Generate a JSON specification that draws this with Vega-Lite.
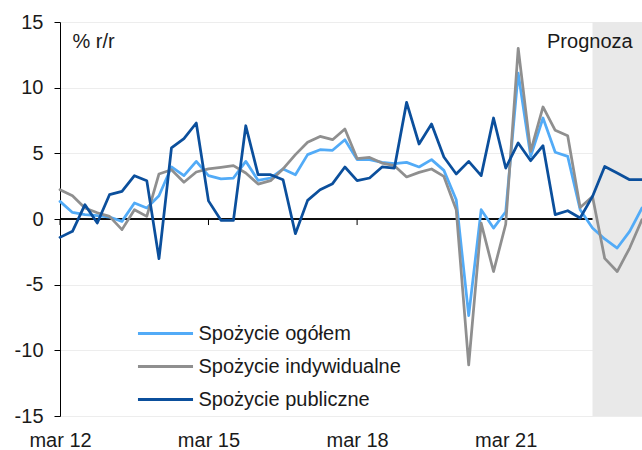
{
  "$schema": "https://vega.github.io/schema/vega-lite/v6.json",
  "width": 582,
  "height": 394,
  "autosize": {"type": "none"},
  "padding": {"left": 60, "top": 22, "right": 0, "bottom": 34},
  "background": "white",
  "config": {
    "font": "Liberation Sans",
    "view": {"stroke": null},
    "legend": {"labelFont": "Liberation Sans"}
  },
  "datasets": {
    "series": [
      {"d": "2012-03-01", "ogolem": 1.34, "indywidualne": 2.23, "publiczne": -1.4},
      {"d": "2012-06-01", "ogolem": 0.5, "indywidualne": 1.77, "publiczne": -0.94},
      {"d": "2012-09-01", "ogolem": 0.33, "indywidualne": 0.84, "publiczne": 1.09},
      {"d": "2012-12-01", "ogolem": 0.25, "indywidualne": 0.48, "publiczne": -0.31},
      {"d": "2013-03-01", "ogolem": 0.15, "indywidualne": 0.2, "publiczne": 1.85},
      {"d": "2013-06-01", "ogolem": -0.18, "indywidualne": -0.81, "publiczne": 2.1},
      {"d": "2013-09-01", "ogolem": 1.22, "indywidualne": 0.71, "publiczne": 3.3},
      {"d": "2013-12-01", "ogolem": 0.84, "indywidualne": 0.2, "publiczne": 2.92},
      {"d": "2014-03-01", "ogolem": 1.77, "indywidualne": 3.43, "publiczne": -3.02},
      {"d": "2014-06-01", "ogolem": 3.96, "indywidualne": 3.75, "publiczne": 5.41},
      {"d": "2014-09-01", "ogolem": 3.3, "indywidualne": 2.8, "publiczne": 6.12},
      {"d": "2014-12-01", "ogolem": 4.39, "indywidualne": 3.58, "publiczne": 7.31},
      {"d": "2015-03-01", "ogolem": 3.3, "indywidualne": 3.82, "publiczne": 1.38},
      {"d": "2015-06-01", "ogolem": 3.05, "indywidualne": 3.93, "publiczne": -0.1},
      {"d": "2015-09-01", "ogolem": 3.12, "indywidualne": 4.06, "publiczne": -0.1},
      {"d": "2015-12-01", "ogolem": 4.39, "indywidualne": 3.5, "publiczne": 7.1},
      {"d": "2016-03-01", "ogolem": 2.94, "indywidualne": 2.66, "publiczne": 3.37},
      {"d": "2016-06-01", "ogolem": 3.12, "indywidualne": 2.92, "publiczne": 3.37},
      {"d": "2016-09-01", "ogolem": 3.81, "indywidualne": 3.81, "publiczne": 2.99},
      {"d": "2016-12-01", "ogolem": 3.37, "indywidualne": 4.9, "publiczne": -1.12},
      {"d": "2017-03-01", "ogolem": 4.9, "indywidualne": 5.84, "publiczne": 1.42},
      {"d": "2017-06-01", "ogolem": 5.28, "indywidualne": 6.29, "publiczne": 2.23},
      {"d": "2017-09-01", "ogolem": 5.23, "indywidualne": 6.04, "publiczne": 2.69},
      {"d": "2017-12-01", "ogolem": 6.04, "indywidualne": 6.85, "publiczne": 3.96},
      {"d": "2018-03-01", "ogolem": 4.52, "indywidualne": 4.6, "publiczne": 2.92},
      {"d": "2018-06-01", "ogolem": 4.52, "indywidualne": 4.69, "publiczne": 3.12},
      {"d": "2018-09-01", "ogolem": 4.31, "indywidualne": 4.26, "publiczne": 3.96},
      {"d": "2018-12-01", "ogolem": 4.21, "indywidualne": 4.06, "publiczne": 3.88},
      {"d": "2019-03-01", "ogolem": 4.31, "indywidualne": 3.2, "publiczne": 8.88},
      {"d": "2019-06-01", "ogolem": 3.96, "indywidualne": 3.55, "publiczne": 5.71},
      {"d": "2019-09-01", "ogolem": 4.52, "indywidualne": 3.81, "publiczne": 7.23},
      {"d": "2019-12-01", "ogolem": 3.7, "indywidualne": 3.24, "publiczne": 4.72},
      {"d": "2020-03-01", "ogolem": 1.47, "indywidualne": 0.71, "publiczne": 3.43},
      {"d": "2020-06-01", "ogolem": -7.36, "indywidualne": -11.1, "publiczne": 4.39},
      {"d": "2020-09-01", "ogolem": 0.71, "indywidualne": -0.31, "publiczne": 3.3},
      {"d": "2020-12-01", "ogolem": -0.69, "indywidualne": -4.0, "publiczne": 7.69},
      {"d": "2021-03-01", "ogolem": 0.55, "indywidualne": -0.4, "publiczne": 3.88},
      {"d": "2021-06-01", "ogolem": 11.1, "indywidualne": 13.0, "publiczne": 5.79},
      {"d": "2021-09-01", "ogolem": 4.77, "indywidualne": 5.15, "publiczne": 4.44},
      {"d": "2021-12-01", "ogolem": 7.69, "indywidualne": 8.53, "publiczne": 5.58},
      {"d": "2022-03-01", "ogolem": 5.08, "indywidualne": 6.75, "publiczne": 0.33},
      {"d": "2022-06-01", "ogolem": 4.77, "indywidualne": 6.34, "publiczne": 0.63},
      {"d": "2022-09-01", "ogolem": 0.71, "indywidualne": 0.88, "publiczne": 0.08},
      {"d": "2022-12-01", "ogolem": -0.69, "indywidualne": 1.72, "publiczne": 1.72},
      {"d": "2023-03-01", "ogolem": -1.52, "indywidualne": -3.0, "publiczne": 4.0},
      {"d": "2023-06-01", "ogolem": -2.21, "indywidualne": -4.0, "publiczne": 3.5},
      {"d": "2023-09-01", "ogolem": -0.94, "indywidualne": -2.21, "publiczne": 2.99},
      {"d": "2023-12-01", "ogolem": 0.84, "indywidualne": -0.05, "publiczne": 2.99}
    ],
    "ticks": [
      {"d": "2012-03-01"},
      {"d": "2015-03-01"},
      {"d": "2018-03-01"},
      {"d": "2021-03-01"}
    ],
    "forecast": [{"d": "2022-12-01", "d2": "2023-12-01"}],
    "notes": [
      {"d": "2012-06-01", "v": 13.0, "t": "% r/r"}
    ],
    "notes2": [
      {"d": "2023-09-23", "v": 13.0, "t": "Prognoza"}
    ]
  },
  "layer": [
    {
      "data": {"name": "ticks"},
      "mark": {"type": "rule", "color": "#000000", "strokeWidth": 1},
      "encoding": {
        "x": {
          "field": "d", "type": "temporal",
          "scale": {"domain": [{"year": 2012, "month": 3, "date": 1, "utc": true}, {"year": 2023, "month": 12, "date": 1, "utc": true}]},
          "axis": {
            "values": [{"year": 2012, "month": 3, "date": 1, "utc": true}, {"year": 2015, "month": 3, "date": 1, "utc": true}, {"year": 2018, "month": 3, "date": 1, "utc": true}, {"year": 2021, "month": 3, "date": 1, "utc": true}],
            "labelExpr": "'mar ' + utcFormat(datum.value, '%y')",
            "title": null, "domain": false, "ticks": false, "grid": false,
            "labelFontSize": 20, "labelColor": "#1a1a1a", "labelPadding": 14,
            "labelFlush": false, "labelOverlap": false, "labelBound": false
          }
        },
        "y": {
          "datum": 0, "type": "quantitative",
          "scale": {"domain": [-15, 15], "nice": false},
          "axis": {
            "values": [-15, -10, -5, 0, 5, 10, 15],
            "labelExpr": "datum.value + ''",
            "title": null, "domainColor": "#000000", "tickColor": "#000000", "tickSize": 6,
            "labelFontSize": 20, "labelColor": "#1a1a1a", "labelPadding": 11,
            "grid": true, "gridColor": "#ededed", "gridWidth": 1
          }
        },
        "y2": {"datum": -0.46}
      }
    },
    {
      "data": {"name": "ticks"},
      "mark": {"type": "rule", "color": "#000000", "strokeWidth": 1},
      "encoding": {
        "y": {"datum": 0, "type": "quantitative"}
      }
    },
    {
      "data": {"name": "forecast"},
      "mark": {"type": "rect", "color": "#e9e9e9"},
      "encoding": {
        "x": {"field": "d", "type": "temporal"},
        "x2": {"field": "d2"},
        "y": {"datum": -15, "type": "quantitative"},
        "y2": {"datum": 15}
      }
    },
    {
      "data": {"name": "series"},
      "transform": [{"fold": ["ogolem", "indywidualne", "publiczne"], "as": ["k", "v"]}],
      "mark": {"type": "line", "strokeWidth": 2.75, "strokeJoin": "round", "strokeCap": "round"},
      "encoding": {
        "x": {"field": "d", "type": "temporal"},
        "y": {"field": "v", "type": "quantitative"},
        "color": {
          "field": "k", "type": "nominal",
          "scale": {"domain": ["ogolem", "indywidualne", "publiczne"], "range": ["#52abf7", "#8f8f8f", "#0b4f9c"]},
          "legend": {
            "orient": "none", "legendX": 83, "legendY": 289, "title": null,
            "symbolType": "M-1.32,0H1.32", "symbolSize": 1740, "symbolStrokeWidth": 3,
            "labelFontSize": 20, "labelColor": "#1a1a1a", "labelOffset": 10.5,
            "rowPadding": 0, "labelLimit": 400,
            "labelExpr": "datum.value == 'ogolem' ? 'Spożycie ogółem' : datum.value == 'indywidualne' ? 'Spożycie indywidualne' : 'Spożycie publiczne'"
          }
        }
      }
    },
    {
      "data": {"name": "notes"},
      "mark": {"type": "text", "align": "left", "baseline": "alphabetic", "fontSize": 20, "color": "#1a1a1a"},
      "encoding": {
        "x": {"field": "d", "type": "temporal"},
        "y": {"field": "v", "type": "quantitative"},
        "text": {"field": "t"}
      }
    },
    {
      "data": {"name": "notes2"},
      "mark": {"type": "text", "align": "right", "baseline": "alphabetic", "fontSize": 20, "color": "#1a1a1a"},
      "encoding": {
        "x": {"field": "d", "type": "temporal"},
        "y": {"field": "v", "type": "quantitative"},
        "text": {"field": "t"}
      }
    }
  ]
}
